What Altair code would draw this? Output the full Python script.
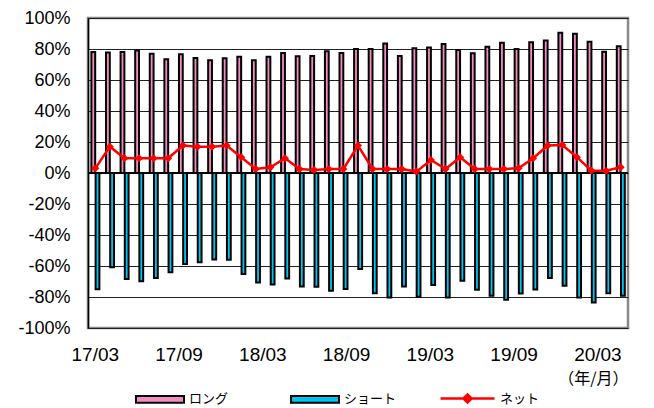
import altair as alt
import pandas as pd

months = ["17/03", "17/04", "17/05", "17/06", "17/07", "17/08", "17/09", "17/10", "17/11", "17/12",
          "18/01", "18/02", "18/03", "18/04", "18/05", "18/06", "18/07", "18/08", "18/09", "18/10",
          "18/11", "18/12", "19/01", "19/02", "19/03", "19/04", "19/05", "19/06", "19/07", "19/08",
          "19/09", "19/10", "19/11", "19/12", "20/01", "20/02", "20/03"]
long_vals = [78, 77.7, 78, 79, 77, 73.4, 76.6, 74.2, 72.7, 74, 75, 72.7, 75, 77.5, 75.3, 75.5,
             78.6, 77.5, 80, 80, 83.5, 75.5, 80.5, 81, 83.3, 79.4, 77.3, 81.4, 84, 80, 84.4,
             85.5, 90.5, 89.8, 84.6, 78.3, 81.8]
short_vals = [-75, -60.8, -68.4, -69.9, -67.7, -64, -58.7, -57.6, -55.8, -56, -65.1, -70.6, -72,
              -68, -73.2, -73.4, -76, -74.9, -62, -77.5, -80.3, -73.2, -79.9, -72.3, -80.3, -69.5,
              -75.3, -79.2, -81.8, -77.7, -75.1, -67.7, -72.7, -80.3, -83.5, -77.5, -79.2]
net_vals = [3, 17, 9.5, 9.5, 9.5, 9.5, 17.7, 17, 17, 17.7, 10.2, 2.6, 3.7, 9.5, 2.6, 2, 2.6, 2.6,
            17.7, 2.6, 2.6, 2.6, 0.9, 8.4, 2.6, 10.2, 2.6, 2.6, 2.6, 3, 9.5, 17.7, 18, 10.2, 1.5,
            1.5, 3.7]
tick_labels = ["17/03", "17/09", "18/03", "18/09", "19/03", "19/09", "20/03"]
y_ticks = [-100, -80, -60, -40, -20, 0, 20, 40, 60, 80, 100]
series_bars = ["ロング", "ショート"]
series_line = ["ネット"]

df = pd.DataFrame({"month": months, "long": long_vals, "short": short_vals, "net": net_vals})

FONT = "Noto Sans CJK JP"
NUMFONT = "Liberation Sans"
PINK = "#F48CC4"
CYAN = "#00C4F0"
RED = "#FF0000"

x_axis = alt.Axis(
    values=tick_labels,
    title="（年/月）",
    titleAnchor="end",
    titleAlign="right",
    titleFontSize=16,
    titleFontWeight="normal",
    titleFont=FONT,
    titleColor="black",
    titlePadding=6,
    labelAngle=0,
    labelFontSize=19,
    labelFont=NUMFONT,
    labelColor="black",
    labelPadding=17,
    labelOverlap=False,
    labelOffset=alt.ExprRef(
        "-3.8*(((toNumber(substring(datum.value,0,2))-17)*12+toNumber(substring(datum.value,3,5))-3)/6)"
    ),
    ticks=False,
    domain=False,
    grid=False,
)
x = alt.X("month:N", sort=months, scale=alt.Scale(paddingInner=0, paddingOuter=0), axis=x_axis)

yscale = alt.Scale(domain=[-100, 100], nice=False)
yaxis = alt.Axis(
    values=y_ticks,
    labelExpr="datum.value + '%'",
    labelFontSize=18,
    labelFont=NUMFONT,
    labelColor="black",
    labelPadding=18,
    labelOverlap=False,
    ticks=False,
    domain=True,
    domainColor="black",
    domainWidth=1.5,
    grid=True,
    gridColor="#202020",
    gridWidth=1,
    gridOpacity=1,
    title=None,
)

base = alt.Chart(df)

fill_scale = alt.Scale(domain=series_bars, range=[PINK, CYAN])
bar_legend = alt.Legend(
    title=None,
    orient="none",
    legendX=47,
    legendY=356,
    direction="horizontal",
    symbolType="M-1,-0.14H1V0.14H-1Z",
    symbolSize=2304,
    symbolStrokeColor="black",
    symbolStrokeWidth=2,
    symbolOpacity=1,
    labelFontSize=13,
    labelFont=FONT,
    labelColor="black",
    labelOffset=4,
    columnPadding=58,
    padding=0,
)

long_bars = base.transform_calculate(series="'ロング'").mark_bar(
    width=3.8, xOffset=-2, stroke="black", strokeWidth=2, opacity=1
).encode(
    x=x,
    y=alt.Y("long:Q", scale=yscale, axis=yaxis),
    fill=alt.Fill("series:N", scale=fill_scale, legend=bar_legend),
)
short_bars = base.transform_calculate(series="'ショート'").mark_bar(
    width=3.8, xOffset=2.2, stroke="black", strokeWidth=2, opacity=1
).encode(
    x=x,
    y=alt.Y("short:Q", scale=yscale, axis=yaxis),
    fill=alt.Fill("series:N", scale=fill_scale, legend=bar_legend),
)

zero = base.mark_rule(color="black", strokeWidth=1.2).encode(y=alt.datum(0, scale=yscale, axis=yaxis))

line_legend = alt.Legend(
    title=None,
    orient="none",
    legendX=351,
    legendY=352,
    symbolType="M-1,0H1M-0.15,0L0,-0.15L0.15,0L0,0.15Z",
    symbolSize=2916,
    symbolStrokeWidth=2.5,
    symbolFillColor=RED,
    labelFontSize=13,
    labelFont=FONT,
    labelColor="black",
    labelOffset=4,
    padding=0,
)

net_line = base.transform_calculate(series="'ネット'").mark_line(strokeWidth=2.5).encode(
    x=x,
    y=alt.Y("net:Q", scale=yscale, axis=yaxis),
    stroke=alt.Stroke("series:N", scale=alt.Scale(domain=series_line, range=[RED]), legend=line_legend),
)
net_pts = base.mark_point(shape="diamond", filled=True, size=64, color=RED, opacity=1).encode(
    x=x,
    y=alt.Y("net:Q", scale=yscale, axis=yaxis),
)

chart = (
    alt.layer(long_bars, short_bars, zero, net_line, net_pts)
    .properties(
        width=540,
        height=310,
        autosize=alt.AutoSizeParams(type="none"),
        padding={"left": 80, "top": 10, "right": 18, "bottom": 78},
        background="white",
    )
    .configure_view(stroke="#888888", strokeWidth=2.5)
)

chart.save("out.html", embed_options={"renderer": "svg", "actions": False})
